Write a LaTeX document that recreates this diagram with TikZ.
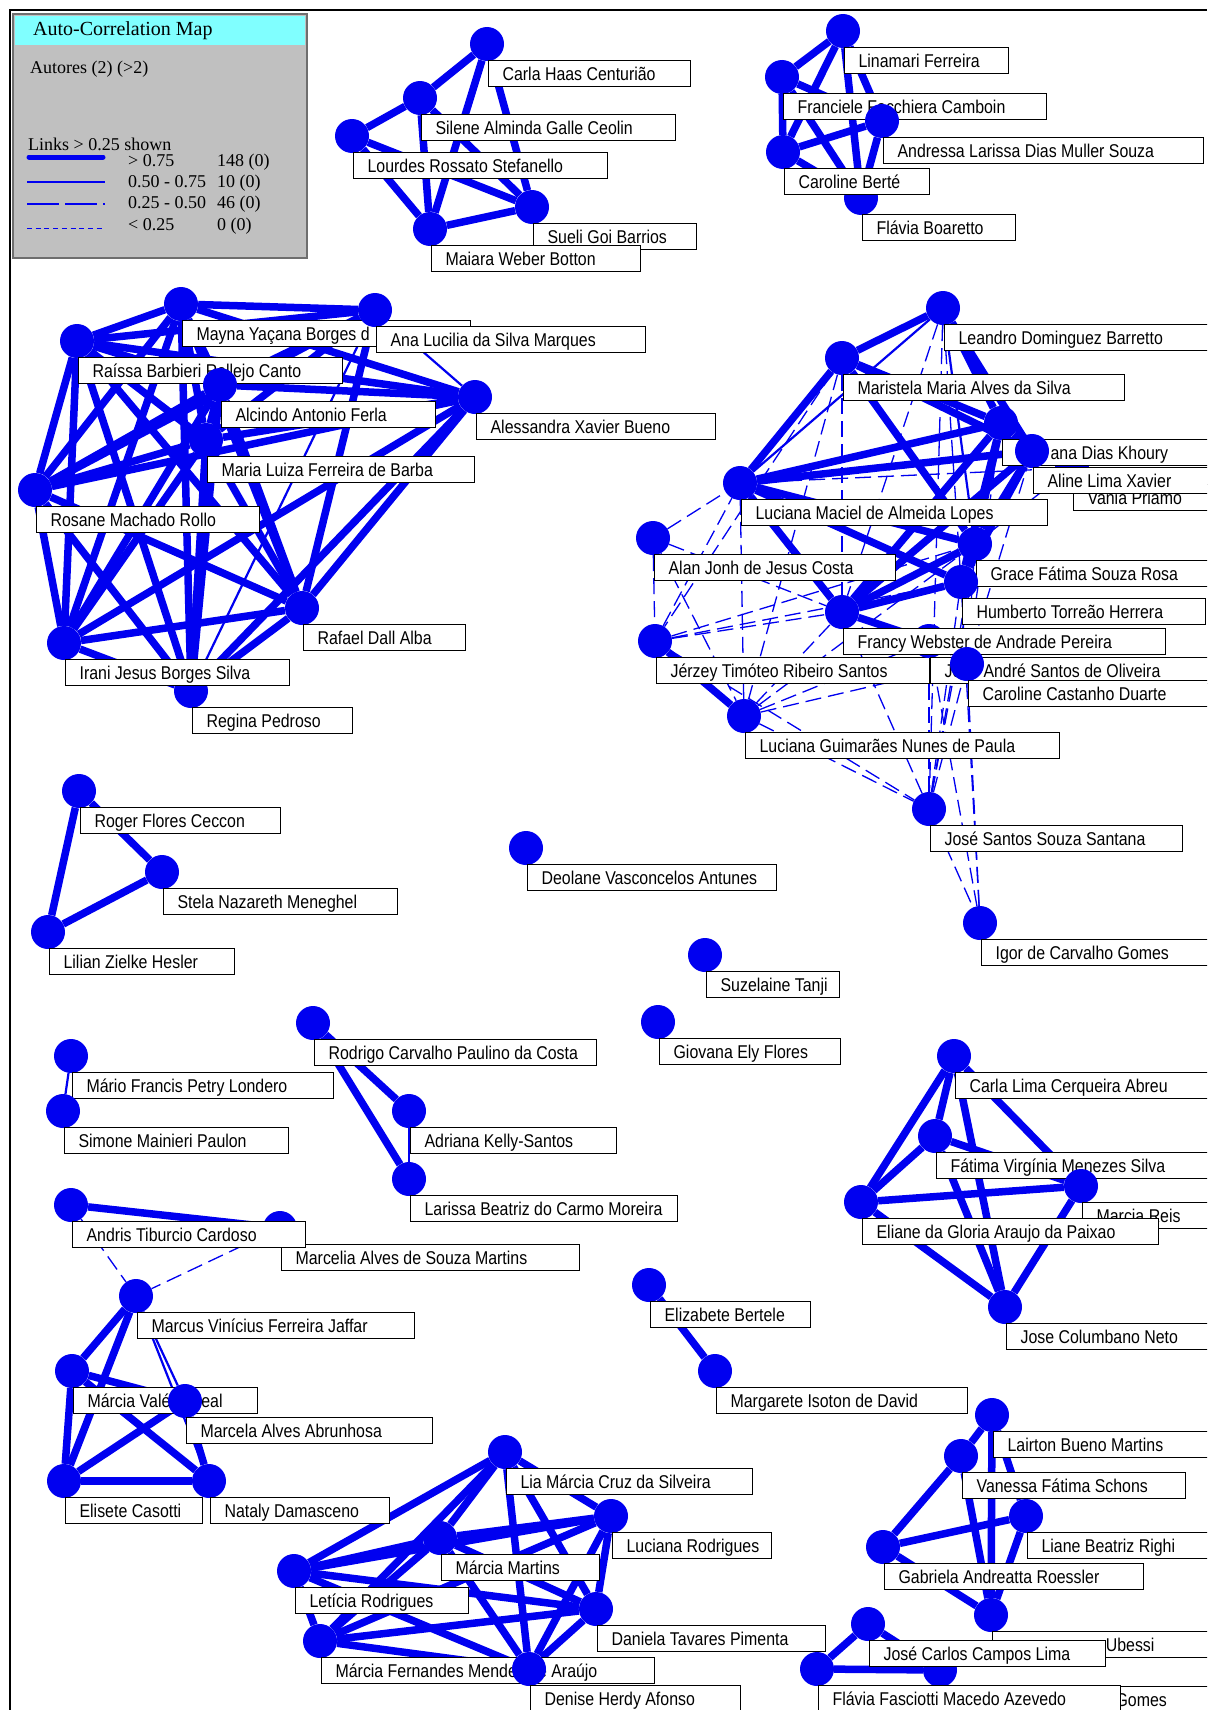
\documentclass[tikz,border=0pt]{standalone}
\usepackage{fontspec}
\newfontfamily\lblfont[FakeStretch=0.86]{Liberation Sans}
\newfontfamily\legfont{Liberation Serif}

\definecolor{nodeblue}{RGB}{0,0,240}
\definecolor{legcyan}{RGB}{128,255,255}
\definecolor{leggray}{RGB}{192,192,192}
\definecolor{legedge}{RGB}{110,110,110}

\pgfdeclarelayer{bg}
\pgfdeclarelayer{links}
\pgfsetlayers{bg,links,main}

\tikzset{
  author/.style={circle, fill=nodeblue, minimum size=34pt, inner sep=0pt},
  namebox/.style={draw=black, line width=1.2pt, fill=white, anchor=north west,
    minimum height=26pt, inner xsep=0pt, inner ysep=0pt,
    text height=13.3pt, text depth=0pt,
    font=\lblfont\fontsize{18.5pt}{20pt}\selectfont},
  strong/.style={draw=nodeblue, line width=7.5pt},
  medium/.style={draw=nodeblue, line width=2.2pt},
  weak/.style={draw=nodeblue, line width=1.3pt, dash pattern=on 16pt off 7pt},
  legtext/.style={anchor=base west, inner sep=0pt, font=\legfont\fontsize{18pt}{20pt}\selectfont},
}

% name box contents: given width (pt), never narrower than the text itself
\newcommand\namefit[2]{%
  \setbox0=\hbox{\hspace*{14pt}#2\hspace*{12pt}}%
  \dimen0=#1pt\relax
  \ifdim\wd0>\dimen0 \dimen0=\wd0 \fi
  \makebox[\dimen0][l]{\box0}}
% an author: blue dot plus its name box (#4 = right edge of the box)
\newcommand\authornode[5]{%
  \pgfmathsetmacro\boxw{#4-#2-1}%
  \node[author] (#1) at (#2,#3) {};
  \node[namebox] (#1-name) at ({#2+1},{#3+16}) {\namefit{\boxw}{#5}};
}
% co-authorship links, drawn beneath dots and name boxes
\newcommand\links[2]{%
  \begin{pgfonlayer}{links}
    \foreach \a/\b in {#2} \draw[#1] (\a) -- (\b);
  \end{pgfonlayer}}

\begin{document}
\begin{tikzpicture}[x=1pt,y=-1pt]
\useasboundingbox (0,0) rectangle (1207,1710);
\clip (0,0) rectangle (1207,1710);

\begin{pgfonlayer}{bg}
  \fill[white] (0,0) rectangle (1207,1710);
  \draw[line width=1.5pt] (10,1710) -- (10,10) -- (1207,10);
\end{pgfonlayer}

% ---------- legend ----------
\draw[fill=leggray, draw=legedge, line width=1.6pt] (13,14) rectangle (307,258);
\fill[legcyan] (15,16) rectangle (305,45);
\node[legtext, font=\legfont\fontsize{20pt}{22pt}\selectfont] (legtitle) at (33,36) {Auto-Correlation Map};
\node[legtext] (legset) at (30,74) {Autores (2) (>2)};
\node[legtext] (leglinks) at (28,150) {Links > 0.25 shown};
\node[legtext] (r1a) at (128,166) {> 0.75};
\node[legtext] (r1b) at (217,166) {148 (0)};
\node[legtext] (r2a) at (128,187) {0.50 - 0.75};
\node[legtext] (r2b) at (217,187) {10 (0)};
\node[legtext] (r3a) at (128,208) {0.25 - 0.50};
\node[legtext] (r3b) at (217,208) {46 (0)};
\node[legtext] (r4a) at (128,230) {< 0.25};
\node[legtext] (r4b) at (217,230) {0 (0)};
\draw[nodeblue, line width=5pt, line cap=round] (29,157) -- (103,157);
\draw[nodeblue, line width=2pt] (27,182) -- (105,182);
\draw[nodeblue, line width=1.5pt, dash pattern=on 32pt off 6pt] (27,204) -- (105,204);
\draw[nodeblue, line width=1pt, dash pattern=on 5pt off 3.7pt] (27,228) -- (105,228);

% ---------- top middle group ----------
\authornode{carla}{487}{44}{690}{Carla Haas Centurião}
\authornode{silene}{420}{98}{675}{Silene Alminda Galle Ceolin}
\authornode{lourdes}{352}{136}{607}{Lourdes Rossato Stefanello}
\authornode{sueli}{532}{207}{696}{Sueli Goi Barrios}
\authornode{maiara}{430}{229}{640}{Maiara Weber Botton}

% ---------- top right group ----------
\authornode{linamari}{843}{31}{1008}{Linamari Ferreira}
\authornode{franciele}{782}{77}{1046}{Franciele Facchiera Camboin}
\authornode{andressa}{882}{121}{1203}{Andressa Larissa Dias Muller Souza}
\authornode{flaviab}{861}{198}{1015}{Flávia Boaretto}
\authornode{caroberte}{783}{152}{929}{Caroline Berté}

% ---------- large left group ----------
\authornode{mayna}{181}{304}{470}{Mayna Yaçana Borges d}
\authornode{analucilia}{375}{310}{645}{Ana Lucilia da Silva Marques}
\authornode{raissa}{77}{341}{342}{Raíssa Barbieri Rollejo Canto}
\authornode{alcindo}{220}{385}{435}{Alcindo Antonio Ferla}
\authornode{alessandra}{475}{397}{715}{Alessandra Xavier Bueno}
\authornode{marialuiza}{206}{440}{474}{Maria Luiza Ferreira de Barba}
\authornode{rosane}{35}{490}{259}{Rosane Machado Rollo}
\authornode{rafael}{302}{608}{465}{Rafael Dall Alba}
\authornode{regina}{191}{691}{352}{Regina Pedroso}
\authornode{irani}{64}{643}{289}{Irani Jesus Borges Silva}

% ---------- large right group ----------
\authornode{vania}{1072}{468}{1230}{Vania Priamo}
\authornode{khoury}{1001}{423}{1230}{\hspace*{34pt}ana Dias Khoury}
\authornode{aline}{1032}{451}{1230}{Aline Lima Xavier}
\authornode{leandro}{943}{308}{1230}{Leandro Dominguez Barretto}
\authornode{maristela}{842}{358}{1124}{Maristela Maria Alves da Silva}
\authornode{lucmaciel}{740}{483}{1047}{Luciana Maciel de Almeida Lopes}
\authornode{alan}{653}{538}{895}{Alan Jonh de Jesus Costa}
\authornode{grace}{975}{544}{1230}{Grace Fátima Souza Rosa}
\authornode{humberto}{961}{582}{1205}{Humberto Torreão Herrera}
\authornode{jerzey}{655}{641}{929}{Jérzey Timóteo Ribeiro Santos}
\authornode{joao}{929}{641}{1230}{João André Santos de Oliveira}
\authornode{francy}{842}{612}{1165}{Francy Webster de Andrade Pereira}
\authornode{carolcast}{967}{664}{1230}{Caroline Castanho Duarte}
\authornode{lucguim}{744}{716}{1059}{Luciana Guimarães Nunes de Paula}
\authornode{josesantos}{929}{809}{1182}{José Santos Souza Santana}
\authornode{igor}{980}{923}{1230}{Igor de Carvalho Gomes}

% ---------- middle left ----------
\authornode{roger}{79}{791}{280}{Roger Flores Ceccon}
\authornode{stela}{162}{872}{397}{Stela Nazareth Meneghel}
\authornode{lilian}{48}{932}{234}{Lilian Zielke Hesler}

\authornode{deolane}{526}{848}{776}{Deolane Vasconcelos Antunes}
\authornode{suzelaine}{705}{955}{825}{Suzelaine Tanji}
\authornode{giovana}{658}{1022}{840}{Giovana Ely Flores}

\authornode{rodrigo}{313}{1023}{596}{Rodrigo Carvalho Paulino da Costa}
\authornode{adriana}{409}{1111}{616}{Adriana Kelly-Santos}
\authornode{larissa}{409}{1179}{677}{Larissa Beatriz do Carmo Moreira}

\authornode{mario}{71}{1056}{333}{Mário Francis Petry Londero}
\authornode{simone}{63}{1111}{288}{Simone Mainieri Paulon}

% ---------- lower left group ----------
\authornode{marcelia}{280}{1228}{579}{Marcelia Alves de Souza Martins}
\authornode{andris}{71}{1205}{305}{Andris Tiburcio Cardoso}
\authornode{marcus}{136}{1296}{414}{Marcus Vinícius Ferreira Jaffar}
\authornode{marciav}{72}{1371}{257}{Márcia Valéria Leal}
\authornode{marcela}{185}{1401}{432}{Marcela Alves Abrunhosa}
\authornode{elisete}{64}{1481}{202}{Elisete Casotti}
\authornode{nataly}{209}{1481}{389}{Nataly Damasceno}

\authornode{elizabete}{649}{1285}{810}{Elizabete Bertele}
\authornode{margarete}{715}{1371}{967}{Margarete Isoton de David}

% ---------- lower right groups ----------
\authornode{carlalima}{954}{1056}{1230}{Carla Lima Cerqueira Abreu}
\authornode{fatima}{935}{1136}{1230}{Fátima Virgínia Menezes Silva}
\authornode{marciareis}{1081}{1186}{1230}{Marcia Reis}
\authornode{eliane}{861}{1202}{1158}{Eliane da Gloria Araujo da Paixao}
\authornode{josecol}{1005}{1307}{1230}{Jose Columbano Neto}

\authornode{lairton}{992}{1415}{1230}{Lairton Bueno Martins}
\authornode{vanessa}{961}{1456}{1185}{Vanessa Fátima Schons}
\authornode{liane}{1026}{1516}{1230}{Liane Beatriz Righi}
\authornode{gabriela}{883}{1547}{1143}{Gabriela Andreatta Roessler}
\authornode{ubessi}{991}{1615}{1230}{\hspace*{86pt}e Ubessi}

\authornode{gomes}{940}{1670}{1230}{\hspace*{160pt}Gomes}
\authornode{josecarlos}{868}{1624}{1105}{José Carlos Campos Lima}
\authornode{flaviaf}{817}{1669}{1120}{Flávia Fasciotti Macedo Azevedo}

% ---------- bottom middle group ----------
\authornode{lia}{505}{1452}{752}{Lia Márcia Cruz da Silveira}
\authornode{lucrod}{611}{1516}{770}{Luciana Rodrigues}
\authornode{marciam}{440}{1538}{599}{Márcia Martins}
\authornode{leticia}{294}{1571}{468}{Letícia Rodrigues}
\authornode{daniela}{596}{1609}{825}{Daniela Tavares Pimenta}
\authornode{marciaf}{320}{1641}{654}{Márcia Fernandes Mendes de Araújo}
\authornode{denise}{529}{1669}{740}{Denise Herdy Afonso}

% ================= links =================
\links{strong}{carla/silene, silene/lourdes, carla/maiara, carla/sueli, silene/maiara,
  silene/sueli, lourdes/maiara, lourdes/sueli, maiara/sueli}

\links{strong}{linamari/franciele, linamari/caroberte, linamari/flaviab, linamari/andressa,
  franciele/caroberte, franciele/flaviab, franciele/andressa, caroberte/andressa,
  caroberte/flaviab, andressa/flaviab}

\links{strong}{mayna/analucilia, mayna/raissa, mayna/alcindo, mayna/alessandra,
  mayna/marialuiza, mayna/rosane, mayna/rafael, mayna/regina, mayna/irani,
  analucilia/raissa, analucilia/alcindo, analucilia/marialuiza, analucilia/rosane,
  analucilia/rafael,
  raissa/alcindo, raissa/alessandra, raissa/marialuiza, raissa/rosane, raissa/rafael,
  raissa/regina, raissa/irani,
  alcindo/alessandra, alcindo/marialuiza, alcindo/rosane, alcindo/rafael, alcindo/regina,
  alcindo/irani,
  alessandra/marialuiza, alessandra/rosane, alessandra/rafael, alessandra/regina,
  alessandra/irani,
  marialuiza/rosane, marialuiza/rafael, marialuiza/regina, marialuiza/irani,
  rosane/rafael, rosane/regina, rosane/irani, rafael/regina, rafael/irani, regina/irani}
\links{medium}{analucilia/alessandra, analucilia/regina}

\links{strong}{leandro/maristela, leandro/khoury, leandro/aline, maristela/lucmaciel,
  maristela/khoury, maristela/aline, maristela/grace, lucmaciel/khoury, lucmaciel/aline,
  lucmaciel/grace, lucmaciel/humberto, lucmaciel/francy, francy/khoury, francy/aline,
  francy/grace, francy/humberto, francy/joao, grace/khoury, grace/aline, humberto/khoury,
  humberto/aline, khoury/aline, khoury/vania, aline/vania, jerzey/lucguim, grace/humberto}
\links{medium}{leandro/lucmaciel, leandro/grace}
\links{weak}{alan/lucmaciel, alan/jerzey, alan/lucguim, alan/francy,
  jerzey/francy, jerzey/grace, jerzey/humberto, jerzey/lucmaciel,
  jerzey/josesantos, lucguim/francy, lucguim/lucmaciel, lucguim/josesantos, lucguim/grace,
  lucguim/carolcast, lucguim/joao, josesantos/igor, josesantos/francy, josesantos/grace,
  josesantos/humberto, josesantos/carolcast, josesantos/joao, josesantos/khoury,
  igor/carolcast, igor/joao, igor/humberto, maristela/francy, maristela/lucguim,
  maristela/jerzey, leandro/francy, leandro/humberto, leandro/josesantos,
  carolcast/grace, carolcast/khoury, carolcast/aline, vania/grace, vania/lucmaciel}

\links{strong}{roger/stela, roger/lilian, stela/lilian}
\links{strong}{rodrigo/adriana, rodrigo/larissa}
\links{medium}{adriana/larissa, mario/simone}

\links{strong}{andris/marcelia, marcus/marciav, marcus/elisete, marciav/marcela,
  marciav/elisete, marciav/nataly, marcela/elisete, marcela/nataly, elisete/nataly}
\links{medium}{marcus/marcela, marcus/nataly}
\links{weak}{andris/marcus, marcelia/marcus}

\links{strong}{elizabete/margarete}

\links{strong}{carlalima/fatima, carlalima/marciareis, carlalima/eliane, carlalima/josecol,
  fatima/marciareis, fatima/eliane, fatima/josecol, marciareis/eliane, marciareis/josecol,
  eliane/josecol}

\links{strong}{lairton/vanessa, lairton/liane, lairton/ubessi, vanessa/gabriela,
  vanessa/ubessi, gabriela/liane, gabriela/ubessi, liane/ubessi}

\links{strong}{josecarlos/flaviaf, flaviaf/gomes, josecarlos/gomes}

\links{strong}{lia/lucrod, lia/marciam, lia/leticia, lia/daniela, lia/marciaf, lia/denise,
  lucrod/marciam, lucrod/leticia, lucrod/daniela, lucrod/marciaf, lucrod/denise,
  marciam/leticia, marciam/daniela, marciam/marciaf, marciam/denise,
  leticia/daniela, leticia/marciaf, leticia/denise,
  daniela/marciaf, daniela/denise, marciaf/denise}
\end{tikzpicture}
\end{document}
